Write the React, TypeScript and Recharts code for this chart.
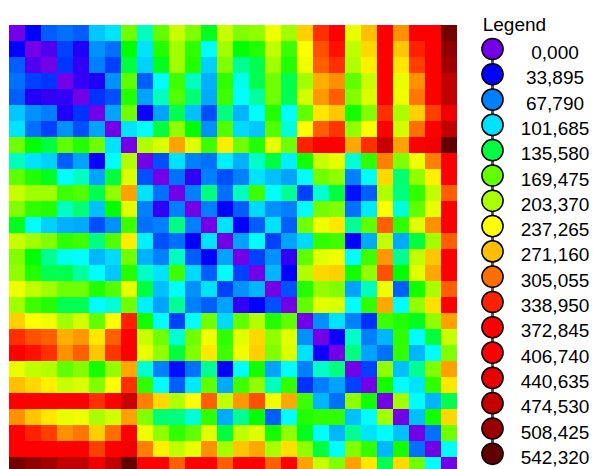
import React from 'react';
import { BarChart, Bar, XAxis, YAxis, Cell } from 'recharts';

// legend classes (values in thousands)
const levels = [0, 33.895, 67.79, 101.685, 135.58, 169.475, 203.37, 237.265, 271.16, 305.055, 338.95, 372.845, 406.74, 440.635, 474.53, 508.425, 542.32];
const levelHues = [270, 240, 210, 187, 135, 97, 80, 60, 45, 26, 8, 0, 0, 0, 0, 0, 0];
const levelBright = [0.9, 1, 1, 1, 1, 1, 1, 1, 1, 1, 1, 1, 1, 0.9, 0.76, 0.6, 0.38];

const sites = ['1', '2', '3', '4', '5', '6', '7', '8', '9', '10', '11', '12', '13', '14', '15', '16', '17', '18', '19', '20', '21', '22', '23', '24', '25', '26', '27', '28'];

// upper triangle of the symmetric matrix, row i holds columns i+1 .. 27
const r00 = [34, 59, 64, 59, 93, 102, 176, 116, 169, 215, 184, 142, 215, 184, 191, 231, 199, 262, 333, 390, 228, 271, 390, 291, 390, 395, 531];
const r01 = [11, 51, 25, 74, 64, 149, 102, 156, 199, 159, 106, 199, 149, 156, 212, 162, 237, 319, 357, 212, 258, 390, 267, 340, 390, 513];
const r02 = [48, 20, 68, 51, 136, 96, 142, 199, 156, 96, 184, 123, 133, 199, 156, 231, 312, 333, 206, 245, 390, 250, 326, 390, 502];
const r03 = [20, 25, 74, 169, 59, 106, 162, 116, 85, 159, 109, 133, 176, 133, 199, 278, 291, 169, 215, 390, 228, 291, 390, 475];
const r04 = [47, 55, 156, 80, 116, 166, 128, 83, 162, 106, 121, 176, 133, 219, 288, 312, 184, 222, 390, 231, 302, 390, 475];
const r05 = [80, 176, 30, 80, 133, 90, 55, 126, 87, 106, 156, 106, 169, 250, 267, 153, 184, 333, 203, 262, 326, 427];
const r06 = [102, 106, 136, 191, 149, 74, 166, 99, 93, 166, 112, 237, 312, 330, 191, 237, 390, 219, 305, 390, 475];
const r07 = [206, 222, 284, 225, 162, 247, 176, 156, 228, 176, 340, 375, 380, 281, 333, 468, 284, 390, 427, 542];
const r08 = [55, 102, 68, 64, 104, 85, 115, 136, 104, 153, 215, 228, 113, 159, 298, 184, 231, 298, 390];
const r09 = [64, 20, 68, 55, 68, 102, 90, 80, 106, 176, 191, 68, 106, 258, 128, 191, 245, 390];
const r10 = [68, 126, 64, 116, 162, 106, 123, 51, 113, 136, 38, 59, 206, 126, 159, 212, 312];
const r11 = [68, 34, 59, 99, 74, 68, 106, 176, 184, 64, 103, 237, 112, 169, 228, 390];
const r12 = [102, 34, 59, 102, 59, 176, 231, 250, 123, 169, 312, 159, 225, 291, 390];
const r13 = [80, 106, 51, 80, 99, 159, 162, 34, 83, 212, 83, 136, 199, 312];
const r14 = [51, 74, 20, 169, 225, 231, 106, 162, 288, 123, 212, 267, 390];
const r15 = [87, 34, 206, 258, 262, 153, 191, 319, 149, 225, 281, 390];
const r16 = [55, 156, 191, 184, 80, 116, 231, 59, 153, 203, 312];
const r17 = [169, 225, 222, 106, 159, 281, 106, 191, 254, 390];
const r18 = [74, 102, 68, 47, 162, 156, 142, 191, 284];
const r19 = [30, 115, 68, 87, 159, 106, 136, 215];
const r20 = [126, 80, 64, 159, 87, 106, 184];
const r21 = [51, 191, 90, 123, 184, 284];
const r22 = [153, 106, 102, 159, 250];
const r23 = [199, 106, 87, 133];
const r24 = [90, 153, 258];
const r25 = [64, 176];
const r26 = [106];

const upper = [r00, r01, r02, r03, r04, r05, r06, r07, r08, r09, r10, r11, r12, r13, r14, r15, r16, r17, r18, r19, r20, r21, r22, r23, r24, r25, r26, []];

const cellValue = (r: number, c: number) => {
  if (r === c) return 0;
  if (c > r) return upper[r][c - r - 1];
  return upper[c][r - c - 1];
};

const hsvToHex = (h: number, s: number, v: number) => {
  const f = (n: number) => {
    const k = (n + h / 60) % 6;
    return v - v * s * Math.max(0, Math.min(k, 4 - k, 1));
  };
  const hex = (x: number) => Math.round(x * 255).toString(16).padStart(2, '0');
  return '#' + hex(f(5)) + hex(f(3)) + hex(f(1));
};

const colorFor = (v: number) => {
  let i = 0;
  while (i < levels.length - 2 && v > levels[i + 1]) i++;
  const t = Math.max(0, Math.min(1, (v - levels[i]) / (levels[i + 1] - levels[i])));
  const h = levelHues[i] + (levelHues[i + 1] - levelHues[i]) * t;
  const b = levelBright[i] + (levelBright[i + 1] - levelBright[i]) * t;
  return hsvToHex(h % 360, 1, b);
};

const data = sites.map((name, c) => {
  const row: Record<string, any> = { name };
  sites.forEach((_, r) => {
    row[`r${r}`] = 1;
  });
  return row;
});

const fmt = (v: number) => v.toFixed(3).replace('.', ',');

function LegendBox() {
  const cx = 492.5;
  const top = 49;
  const step = 25.3;
  return (
    <svg width={593} height={469} style={{ position: 'absolute', left: 0, top: 0 }}>
      <text x={482.7} y={30.7} fontSize={19} fontFamily="'Liberation Sans', Arial, sans-serif" fill="#000">
        Legend
      </text>
      <line x1={cx} x2={cx} y1={top} y2={top + step * (levels.length - 1)} stroke="#555" strokeWidth={3} />
      {levels.map((lv, i) => (
        <g key={i}>
          <circle cx={cx} cy={top + i * step} r={10.6} fill={colorFor(lv)} stroke="#000" strokeWidth={1.5} />
          <text
            x={555}
            y={top + i * step + 10}
            textAnchor="middle"
            fontSize={19}
            fontFamily="'Liberation Sans', Arial, sans-serif"
            fill="#000"
          >
            {fmt(lv)}
          </text>
        </g>
      ))}
    </svg>
  );
}

export default function App() {
  return (
    <div style={{ position: 'relative', width: 593, height: 469, overflow: 'hidden', background: '#fff' }}>
      <style>{'html,body{margin:0;padding:0;overflow:hidden;}'}</style>
      <BarChart
        width={593}
        height={473}
        data={data}
        margin={{ top: 25, right: 136, bottom: 0, left: 9 }}
        barCategoryGap={0}
        barGap={0}
      >
        <XAxis dataKey="name" hide />
        <YAxis type="number" domain={[0, 28]} reversed hide />
        {sites.map((_, r) => (
          <Bar key={r} dataKey={`r${r}`} stackId="grid" isAnimationActive={false}>
            {sites.map((__, c) => (
              <Cell key={c} fill={colorFor(cellValue(r, c))} />
            ))}
          </Bar>
        ))}
      </BarChart>
      <LegendBox />
    </div>
  );
}
